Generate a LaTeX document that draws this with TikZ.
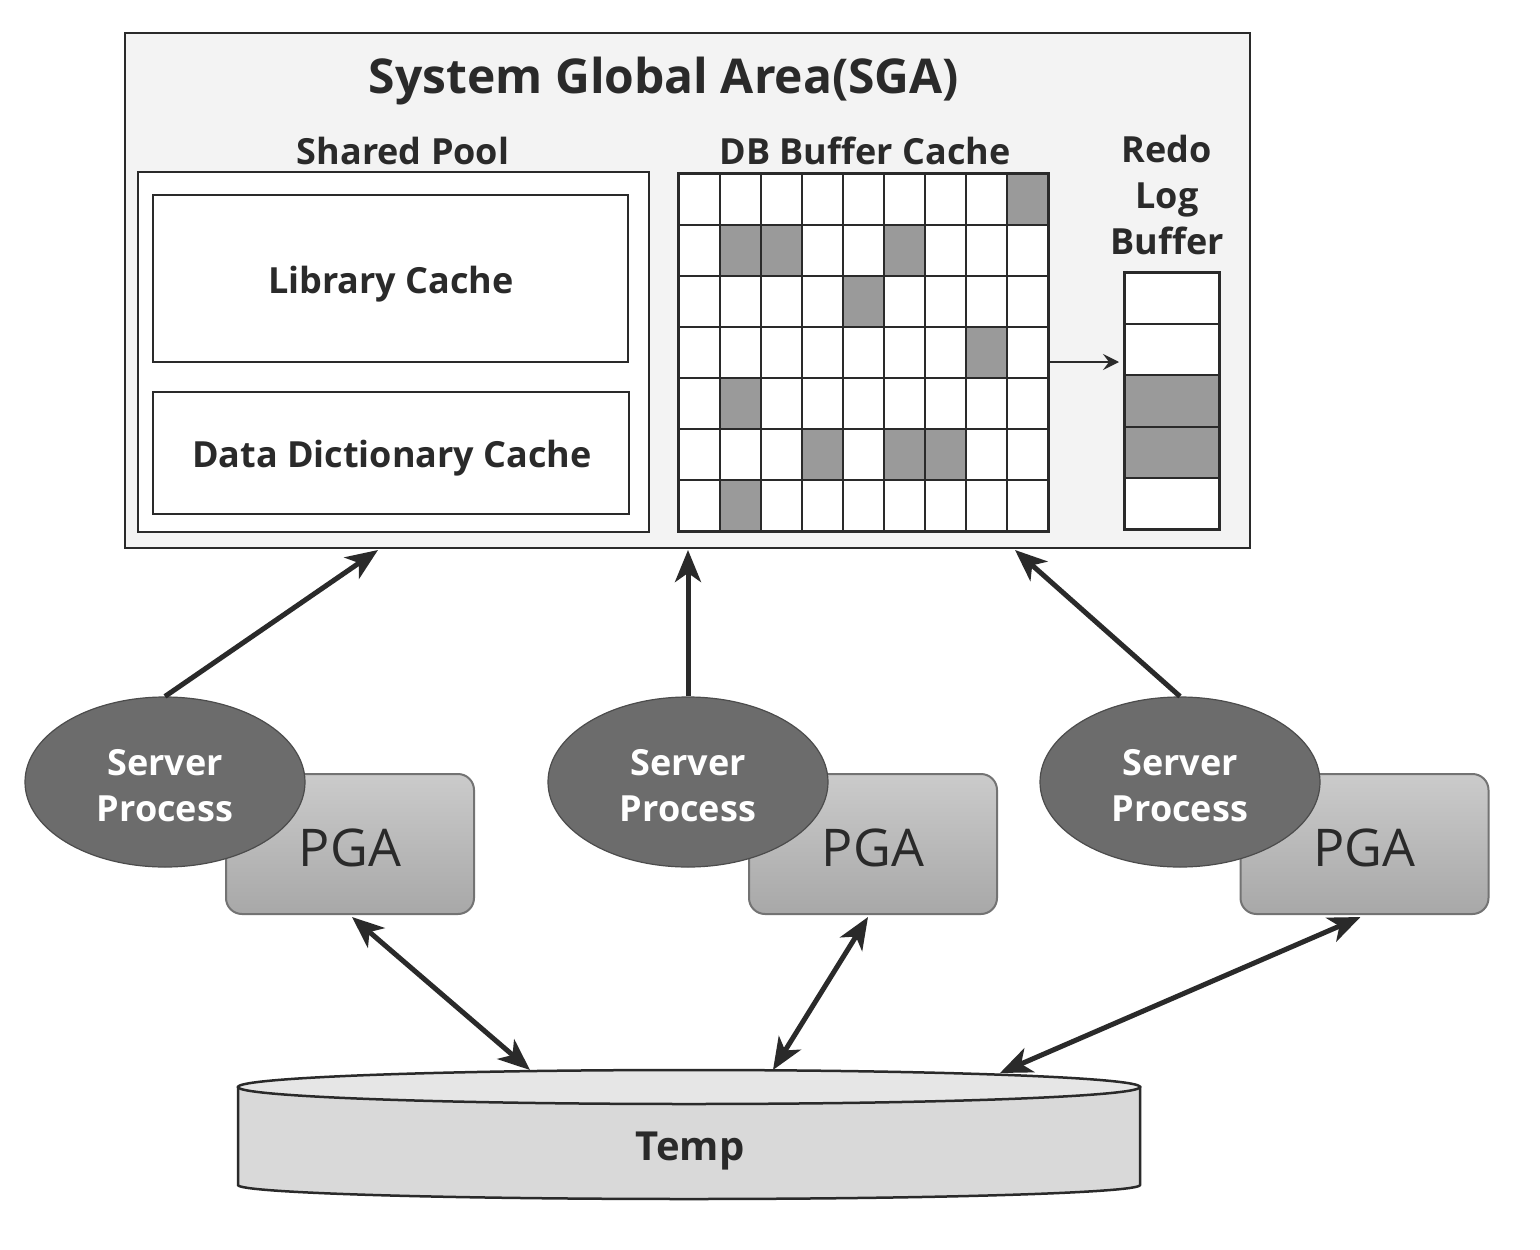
\documentclass[tikz,border=0pt]{standalone}
\usepackage{fontspec}
\setmainfont{Open Sans}
\usetikzlibrary{shapes.geometric,arrows.meta,calc}
\definecolor{ink}{HTML}{2A2A2A}
\definecolor{sgafill}{HTML}{F3F3F3}
\definecolor{cellgray}{HTML}{9A9A9A}
\definecolor{spfill}{HTML}{6C6C6C}
\definecolor{pgatop}{HTML}{CBCBCB}
\definecolor{pgabot}{HTML}{A8A8A8}
\definecolor{tempfill}{HTML}{D9D9D9}
\definecolor{temptop}{HTML}{E6E6E6}
\tikzset{
  box/.style={draw=ink, line width=2.8pt, inner sep=0pt},
  lbl/.style={text=ink, font=\fontsize{36}{46}\selectfont\bfseries, align=center, inner sep=0pt},
  gridline/.style={draw=ink, line width=2pt},
  srv/.style={ellipse, draw=black!70, line width=1.2pt, fill=spfill, minimum width=280pt, minimum height=170pt, inner sep=0pt,
     text=white, font=\fontsize{36}{46}\selectfont\bfseries, align=center},
  pga/.style={draw=black!55, line width=2pt, rounded corners=16pt, top color=pgatop, bottom color=pgabot,
     minimum width=248pt, minimum height=140pt, inner sep=0pt},
  pgatext/.style={text=ink, font=\fontsize{52}{56}\selectfont, inner sep=0pt},
  bigarrow/.style={draw=ink, line width=5pt, -{Stealth[length=32pt,width=26pt,inset=9pt]}},
  dblarrow/.style={draw=ink, line width=5pt, {Stealth[length=32pt,width=26pt,inset=9pt]}-{Stealth[length=32pt,width=26pt,inset=9pt]}},
}
\begin{document}
\begin{tikzpicture}[x=1pt,y=-1pt]
\useasboundingbox[fill=white] (0,0) rectangle (1540,1250);

% SGA
\node[box, fill=sgafill, minimum width=1125pt, minimum height=515pt] (sga) at (687.5,290.5) {};
\node[lbl, font=\fontsize{48}{52}\selectfont\bfseries] (sgat) at (664,81) {System Global Area(SGA)};

% Shared pool
\node[lbl] (spt) at (403,151) {Shared Pool};
\node[box, fill=white, minimum width=511pt, minimum height=360pt] (pool) at (393.5,352) {};
\node[box, fill=white, minimum width=475pt, minimum height=167pt] (lib) at (390.5,278.5) {};
\node[lbl] (libt) at (391,284) {Library Cache};
\node[box, fill=white, minimum width=476pt, minimum height=122pt] (dd) at (391,453) {};
\node[lbl] (ddt) at (392,458) {Data Dictionary Cache};

% DB buffer cache
\node[lbl] (dbt) at (865,151) {DB Buffer Cache};
\node[fill=white, minimum width=369pt, minimum height=357pt, inner sep=0pt] (buf) at (863.5,352.5) {};
\foreach \c/\r in {8/0,1/1,2/1,5/1,4/2,7/3,1/4,3/5,5/5,6/5,1/6}
  \fill[cellgray] ({679+\c*41},{174+\r*51}) rectangle ++(41,51);
\foreach \i in {1,...,8}
  \draw[gridline] ({679+\i*41},174) -- ++(0,357);
\foreach \j in {1,...,6}
  \draw[gridline] (679,{174+\j*51}) -- ++(369,0);
\draw[box] (buf.north west) rectangle (buf.south east);

% Redo log buffer
\node[lbl] (redot) at (1167,195) {Redo\\Log\\Buffer};
\node[fill=white, minimum width=94pt, minimum height=256pt, inner sep=0pt] (redo) at (1172,401) {};
\fill[cellgray] (1125,{273+2*51.2}) rectangle (1219,{273+4*51.2});
\foreach \j in {1,...,4}
  \draw[gridline] (1125,{273+\j*51.2}) -- (1219,{273+\j*51.2});
\draw[box] (redo.north west) rectangle (redo.south east);

\coordinate (rin) at (1119,362);
\draw[draw=ink, line width=2.2pt, -{Stealth[length=16pt,width=16pt,inset=6pt]}] (buf.east |- rin) -- (rin);

% PGA boxes
\node[pga] (pga1) at (350,844) {};
\node[pga] (pga2) at (873,844) {};
\node[pga] (pga3) at (1364.5,844) {};
\node[pgatext] at (350,848) {PGA};
\node[pgatext] at (873,848) {PGA};
\node[pgatext] at (1364.5,848) {PGA};

% Server processes
\node[srv] (sp1) at (165,782) {};
\node[srv] (sp2) at (688,782) {};
\node[srv] (sp3) at (1180,782) {};
\node[lbl, text=white] at (165,786) {Server\\Process};
\node[lbl, text=white] at (688,786) {Server\\Process};
\node[lbl, text=white] at (1180,786) {Server\\Process};

% Temp cylinder
\filldraw[fill=tempfill, draw=ink, line width=2.5pt]
  (238,1087) -- (238,1185)
  .. controls (238,1192.73) and (439.9,1199) .. (689,1199)
  .. controls (938.1,1199) and (1140,1192.73) .. (1140,1185)
  -- (1140,1087) -- cycle;
\filldraw[fill=temptop, draw=ink, line width=2.5pt] (689,1087) ellipse [x radius=451, y radius=17];
\node[lbl, font=\fontsize{40}{44}\selectfont\bfseries] (temp) at (690,1151) {Temp};

% connector end points
\coordinate (s1) at (378,550);
\coordinate (s2) at (688,550);
\coordinate (s3) at (1015,550);
\coordinate (t1) at (530,1070);
\coordinate (t2) at (773,1070);
\coordinate (t3) at (1000,1073);

\draw[bigarrow] (sp1.north) -- (s1);
\draw[bigarrow] (sp2.north) -- (s2);
\draw[bigarrow] (sp3.north) -- (s3);

\draw[dblarrow] ($(pga1.south)+(2,2)$) -- (t1);
\draw[dblarrow] ($(pga2.south)+(-5,2)$) -- (t2);
\draw[dblarrow] ($(pga3.south)+(-4,2)$) -- (t3);
\end{tikzpicture}
\end{document}
